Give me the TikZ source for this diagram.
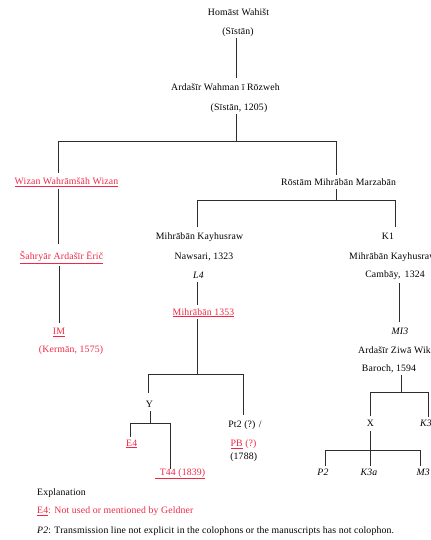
\documentclass[tikz,border=0pt]{standalone}
\usepackage{fontspec}
\setmainfont{Liberation Serif}[LetterSpace=1.5]
\definecolor{rd}{RGB}{240,40,70}
\definecolor{lnc}{RGB}{45,45,45}
\begin{document}
\begin{tikzpicture}[x=1bp,y=-1bp,
  every node/.style={inner sep=0pt, anchor=base, font=\fontsize{9.8}{11}\selectfont},
  lbl/.style={},
  rlbl/.style={text=rd},
  lft/.style={anchor=base west},
  ln/.style={draw=lnc, line width=0.9bp}]
\useasboundingbox (0,0) rectangle (430,540);
\clip (0,0) rectangle (430,540);
% ---------- texts ----------
\node[lbl] (homast) at (238.5,15.5) {Homāst Wahišt};
\node[lbl] (sist1) at (238,34.5) {(Sīstān)};
\node[lbl] (ardw) at (225.5,90.5) {Ardašīr Wahman ī Rōzweh};
\node[lbl] (sist2) at (239,110.5) {(Sīstān, 1205)};
\node[rlbl] (wizan) at (66.5,184.5) {\underline{Wizan Wahrāmšāh Wizan}};
\node[lbl] (rostam) at (338.5,185.5) {Rōstām Mihrābān Marzabān};
\node[rlbl] (sahr) at (61.5,259.5) {\underline{Šahryār Ardašīr Ērič}};
\node[rlbl] (im) at (59,334.5) {\underline{IM}};
\node[rlbl] (kerm) at (71,352.5) {(Kermān, 1575)};
\node[lbl] (mk1) at (199.5,239.5) {Mihrābān Kayhusraw};
\node[lbl] (naws) at (204,259.5) {Nawsari, 1323};
\node[lbl] (l4) at (198.5,278.5) {\textit{L4}};
\node[rlbl] (m1353) at (203.5,315) {\underline{Mihrābān 1353}};
\node[lbl] (k1) at (388,239.5) {K1};
\node[lbl,lft] (mk2) at (349,259.5) {Mihrābān Kayhusraw};
\node[lbl] (camb) at (395,277.5) {Cambāy,\, 1324};
\node[lbl] (mi3) at (400,334.5) {\textit{MI3}};
\node[lbl,lft] (azw) at (358,353.5) {Ardašīr Ziwā Wik};
\node[lbl] (bar) at (389,371.5) {Baroch, 1594};
\node[lbl] (y) at (149.3,407.5) {Y};
\node[lbl] (pt2) at (245,427.5) {Pt2 (?) /};
\node[rlbl] (e4) at (131.7,446) {\underline{E4}};
\node[rlbl] (pb) at (243.5,446.5) {\underline{PB} (?)};
\node[lbl] (y1788) at (243.7,459.5) {(1788)};
\node[rlbl] (t44) at (180,475) {\underline{\hspace{5bp}T44 (1839)}};
\node[lbl] (x) at (370.5,426.5) {X};
\node[lbl,lft] (k3) at (420,426.5) {\textit{K3}};
\node[lbl] (p2) at (323,475.5) {\textit{P2}};
\node[lbl] (k3a) at (369,475.5) {\textit{K3a}};
\node[lbl,lft] (m3) at (416.5,475.5) {\textit{M3}};
% ---------- legend ----------
\node[lbl,lft] (expl) at (37,495) {Explanation};
\node[rlbl,lft] (leg1) at (37,513.5) {\underline{E4}: Not used or mentioned by Geldner};
\node[lbl,lft] (leg2) at (37,533.5) {\textit{P2}: Transmission line not explicit in the colophons or the manuscripts has not colophon.};
% ---------- junction coordinates ----------
\coordinate (c1a) at (236,38);  \coordinate (c1b) at (236,78);
\coordinate (c2a) at (236,114); \coordinate (c2b) at (236,141);
\coordinate (c3l) at (58,141);  \coordinate (c3r) at (336,141);
\coordinate (c3lb) at (58,173); \coordinate (c3rb) at (336,175);
\coordinate (c4a) at (58,189);  \coordinate (c4b) at (58,244);
\coordinate (c5a) at (59,266);  \coordinate (c5b) at (59,323);
\coordinate (c6a) at (336,189); \coordinate (c6b) at (336,200);
\coordinate (c6l) at (197.7,200); \coordinate (c6r) at (395,200);
\coordinate (c6lb) at (197.7,227); \coordinate (c6rb) at (395,227);
\coordinate (c7a) at (197.7,282); \coordinate (c7b) at (197.7,305);
\coordinate (c8a) at (197.7,319); \coordinate (c8b) at (197.7,374);
\coordinate (c8l) at (148.3,374); \coordinate (c8r) at (243.3,374);
\coordinate (c8lb) at (148.3,393); \coordinate (c8rb) at (243.3,415);
\coordinate (c9a) at (150,411);  \coordinate (c9b) at (150,423);
\coordinate (c9l) at (130.7,423); \coordinate (c9r) at (170,423);
\coordinate (c9lb) at (130.7,437); \coordinate (c9rb) at (170,469);
\coordinate (d1a) at (399,283);  \coordinate (d1b) at (399,322);
\coordinate (d2a) at (401,375);  \coordinate (d2b) at (401,392.5);
\coordinate (d2l) at (370,392.5); \coordinate (d2r) at (428.7,392.5);
\coordinate (d2lb) at (370,416); \coordinate (d2rb) at (428.7,416.5);
\coordinate (d3a) at (370.7,431); \coordinate (d3b) at (370.7,450.7);
\coordinate (d3l) at (325,450.7); \coordinate (d3r) at (420.7,450.7);
\coordinate (d3lb) at (325,465.5); \coordinate (d3rb) at (420.7,465.5);
\coordinate (d3mb) at (370.7,465.5);
% ---------- connectors ----------
\draw[ln] (c1a) -- (c1b);
\draw[ln] (c2a) -- (c2b);
\draw[ln] (c3lb) -- (c3l) -- (c3r) -- (c3rb);
\draw[ln] (c4a) -- (c4b);
\draw[ln] (c5a) -- (c5b);
\draw[ln] (c6a) -- (c6b);
\draw[ln] (c6lb) -- (c6l) -- (c6r) -- (c6rb);
\draw[ln] (c7a) -- (c7b);
\draw[ln] (c8a) -- (c8b);
\draw[ln] (c8lb) -- (c8l) -- (c8r) -- (c8rb);
\draw[ln] (c9a) -- (c9b);
\draw[ln] (c9lb) -- (c9l) -- (c9r) -- (c9rb);
\draw[ln] (d1a) -- (d1b);
\draw[ln] (d2a) -- (d2b);
\draw[ln] (d2lb) -- (d2l) -- (d2r) -- (d2rb);
\draw[ln] (d3a) -- (d3mb);
\draw[ln] (d3lb) -- (d3l) -- (d3r) -- (d3rb);
\end{tikzpicture}
\end{document}
